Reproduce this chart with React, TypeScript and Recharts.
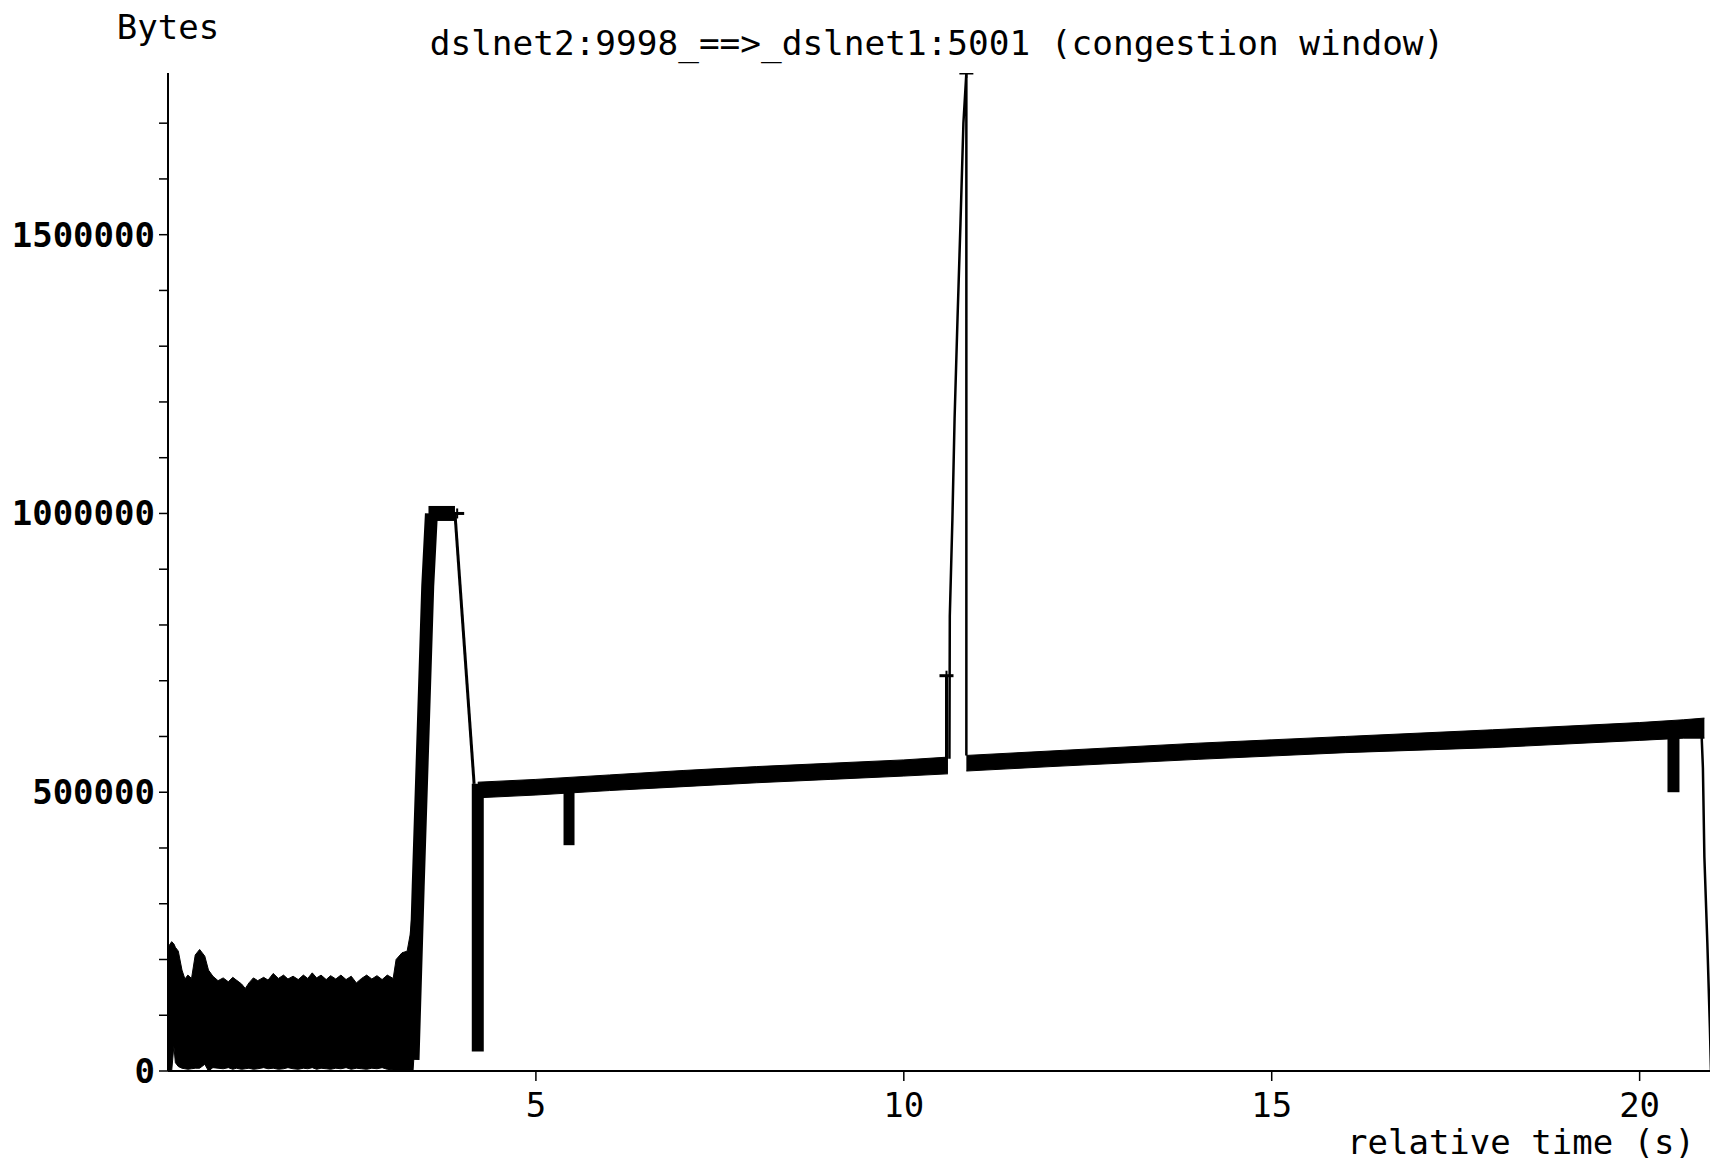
import React from 'react';
import { ComposedChart, Area, Line, Scatter, XAxis, YAxis } from 'recharts';

// ---------- data (time in s, congestion window in bytes) ----------
const noiseTime = [0, 0.05, 0.08, 0.1, 0.14, 0.19, 0.23, 0.27, 0.32, 0.37, 0.43, 0.5, 0.55, 0.61, 0.68, 0.75, 0.82, 0.88, 0.93, 1.0, 1.05, 1.1, 1.16, 1.22, 1.3, 1.36, 1.43, 1.5, 1.57, 1.63, 1.7, 1.77, 1.84, 1.9, 1.96, 2.02, 2.08, 2.15, 2.21, 2.28, 2.35, 2.42, 2.49, 2.56, 2.63, 2.7, 2.77, 2.84, 2.91, 2.98, 3.06, 3.1, 3.18, 3.25, 3.29, 3.33, 3.36];
const noiseHigh = [222000, 232000, 228000, 222000, 215000, 181000, 165000, 172000, 166000, 208000, 218000, 206000, 181000, 170000, 162000, 167000, 160000, 168000, 163000, 156000, 148000, 158000, 167000, 162000, 168000, 163000, 175000, 166000, 172000, 165000, 170000, 164000, 172000, 166000, 176000, 167000, 172000, 164000, 171000, 165000, 172000, 164000, 170000, 158000, 166000, 172000, 165000, 171000, 164000, 172000, 166000, 200000, 212000, 215000, 244000, 300000, 320000];
const noiseLow = [0, 0, 45000, 15000, 8000, 5000, 4000, 3000, 4000, 5000, 5000, 12000, 0, 6000, 5000, 4000, 6000, 3000, 5000, 3000, 4000, 5000, 3000, 4000, 6000, 4000, 5000, 3000, 4000, 6000, 4000, 3000, 5000, 4000, 6000, 3000, 5000, 4000, 3000, 5000, 4000, 6000, 3000, 5000, 4000, 3000, 5000, 4000, 6000, 3000, 2000, 2000, 0, 0, 0, 0, 60000];

const bandATime = [4.21, 5.0, 6.0, 7.0, 8.0, 9.0, 10.0, 10.6];
const bandAHigh = [518000, 523000, 531000, 539000, 546000, 552000, 558000, 563000];
const bandALow = [490000, 495000, 503000, 510000, 517000, 523000, 529000, 533000];

const bandBTime = [10.85, 12, 14, 16, 18, 20, 20.6, 20.88];
const bandBHigh = [566000, 574000, 588000, 600000, 612000, 625000, 630000, 633000];
const bandBLow = [538000, 546000, 559000, 571000, 580000, 593000, 597000, 597000];

const rampTime = [3.33, 3.4, 3.47, 3.53, 3.58];
const rampValue = [20000, 330000, 620000, 870000, 1000000];
const plateauTime = [3.54, 3.9];
const plateauValue = [1000000, 1000000];
const fallTime = [3.9, 4.16];
const fallValue = [1000000, 515000];
const dropTime = [4.21, 4.21];
const dropValue = [515000, 35000];
const dip1Time = [5.45, 5.45];
const dip1Value = [505000, 405000];
const spikeLeftTime = [10.58, 10.58];
const spikeLeftValue = [560000, 709000];
const spikeTime = [10.62, 10.625, 10.66, 10.69, 10.73, 10.77, 10.81, 10.85, 10.85];
const spikeValue = [560000, 816000, 988000, 1170000, 1350000, 1520000, 1700000, 1790000, 566000];
const dip2Time = [20.46, 20.46];
const dip2Value = [600000, 500000];
const endTime = [20.84, 20.86, 20.88, 20.92, 20.955, 20.97];
const endValue = [610000, 544000, 384000, 231000, 77000, 0];
const markerTime = [10.58, 10.85, 3.93];
const markerValue = [709000, 1790000, 1000000];

const xTicks = [5, 10, 15, 20];
const yTicks = [0, 100000, 200000, 300000, 400000, 500000, 600000, 700000, 800000, 900000, 1000000, 1100000, 1200000, 1300000, 1400000, 1500000, 1600000, 1700000];
const yLabelled = [0, 500000, 1000000, 1500000];

const titleText = 'dslnet2:9998_==>_dslnet1:5001 (congestion window)';
const yTitle = 'Bytes';
const xTitle = 'relative time (s)';

// ---------- helpers ----------
const band = (ts: number[], lo: number[], hi: number[]) => ts.map((t, i) => ({ t, r: [lo[i], hi[i]] }));
const pts = (ts: number[], vs: number[]) => ts.map((t, i) => ({ t, v: vs[i] }));

const MONO = '"DejaVu Sans Mono", monospace';

const YTick = (props: any) => {
  const { x, y, payload } = props;
  if (!yLabelled.includes(payload.value)) return <g />;
  return (
    <text x={x} y={y} dy={12} textAnchor="end" fontFamily={MONO} fontWeight="bold" fontSize={34} fill="#000">
      {payload.value}
    </text>
  );
};

const XTick = (props: any) => {
  const { x, payload } = props;
  return (
    <text x={x} y={1109} textAnchor="middle" fontFamily={MONO} fontSize={34} fill="#000">
      {payload.value}
    </text>
  );
};

const Plus = (props: any) => {
  const { cx, cy } = props;
  return (
    <g>
      <line x1={cx - 7} x2={cx + 7} y1={cy} y2={cy} stroke="#000" strokeWidth={3} />
      <line x1={cx} x2={cx} y1={cy - 5} y2={cy + 5} stroke="#000" strokeWidth={2} />
    </g>
  );
};

const W = 1710;
const H = 1153;

export default function App() {
  const thick = (d: any[], w: number, key: string) => (
    <Line key={key} data={d} dataKey="v" type="linear" stroke="#000" strokeWidth={w} dot={false} activeDot={false} isAnimationActive={false} />
  );
  return (
    <div style={{ position: 'relative', width: W, height: H, background: '#fff' }}>
      <ComposedChart width={W} height={H} margin={{ top: 65, right: 7, left: 0, bottom: 0 }}>
        <XAxis
          type="number"
          dataKey="t"
          domain={[0, 20.97]}
          ticks={xTicks}
          allowDataOverflow
          tickSize={10}
          height={90}
          tick={<XTick />}
          axisLine={{ stroke: '#000', strokeWidth: 2 }}
          tickLine={{ stroke: '#000', strokeWidth: 1.5 }}
        />
        <YAxis
          type="number"
          domain={[0, 1790000]}
          ticks={yTicks}
          allowDataOverflow
          tickSize={9}
          tickMargin={4}
          width={160}
          tick={<YTick />}
          axisLine={{ stroke: '#000', strokeWidth: 2 }}
          tickLine={{ stroke: '#000', strokeWidth: 1.5 }}
        />
        <Area data={band(noiseTime, noiseLow, noiseHigh)} dataKey="r" type="linear" stroke="#000" strokeWidth={1} fill="#000" fillOpacity={1} dot={false} activeDot={false} isAnimationActive={false} />
        <Area data={band(bandATime, bandALow, bandAHigh)} dataKey="r" type="linear" stroke="#000" strokeWidth={1} fill="#000" fillOpacity={1} dot={false} activeDot={false} isAnimationActive={false} />
        <Area data={band(bandBTime, bandBLow, bandBHigh)} dataKey="r" type="linear" stroke="#000" strokeWidth={1} fill="#000" fillOpacity={1} dot={false} activeDot={false} isAnimationActive={false} />
        {thick(pts(rampTime, rampValue), 13, 'ramp')}
        {thick(pts(plateauTime, plateauValue), 15, 'plateau')}
        {thick(pts(fallTime, fallValue), 3, 'fall')}
        {thick(pts(dropTime, dropValue), 12, 'drop')}
        {thick(pts(dip1Time, dip1Value), 11, 'dip1')}
        {thick(pts(spikeLeftTime, spikeLeftValue), 3, 'spikeLeft')}
        {thick(pts(spikeTime, spikeValue), 2.5, 'spike')}
        {thick(pts(dip2Time, dip2Value), 12, 'dip2')}
        {thick(pts(endTime, endValue), 2.5, 'end')}
        <Scatter data={pts(markerTime, markerValue)} dataKey="v" shape={<Plus />} isAnimationActive={false} />
      </ComposedChart>
      <svg width={W} height={H} style={{ position: 'absolute', left: 0, top: 0, pointerEvents: 'none' }}>
        <text x={929} y={47} textAnchor="middle" fontFamily={MONO} fontSize={34.4} fill="#000">{titleText}</text>
        <text x={160} y={31} textAnchor="middle" fontFamily={MONO} fontSize={34} fill="#000">{yTitle}</text>
        <text x={1687} y={1146} textAnchor="end" fontFamily={MONO} fontSize={34} fill="#000">{xTitle}</text>
      </svg>
    </div>
  );
}
